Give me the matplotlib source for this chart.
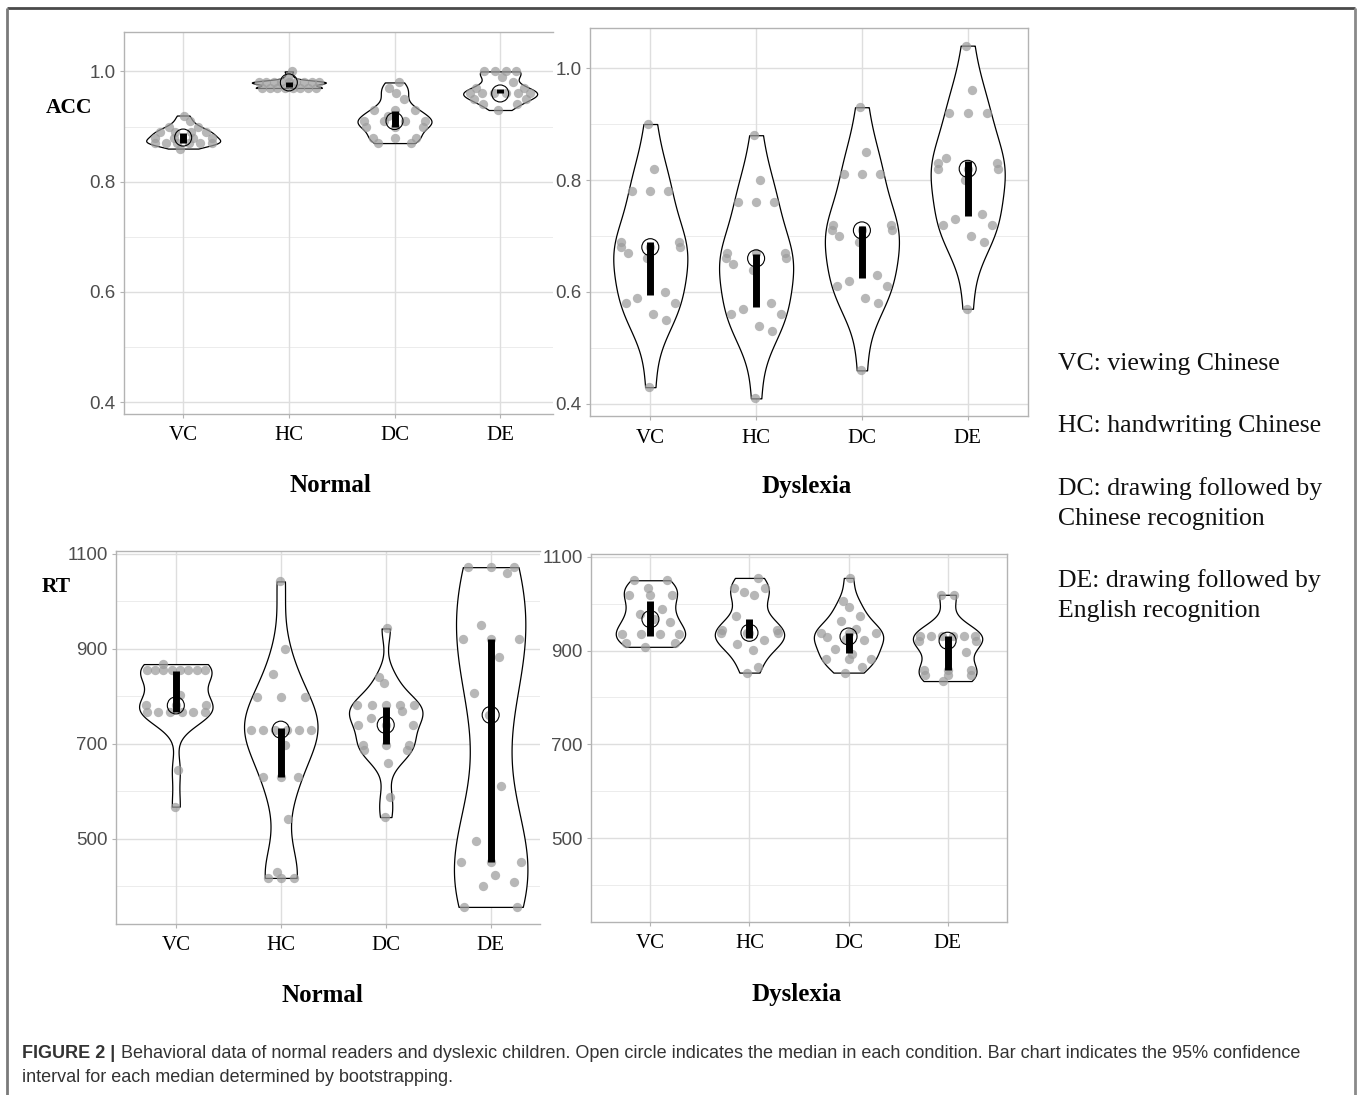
import numpy as np
import matplotlib
matplotlib.use("Agg")
import matplotlib.pyplot as plt
from matplotlib.mlab import GaussianKDE

# ---------------------------------------------------------------- data
conditions = ["VC", "HC", "DC", "DE"]

# accuracy, normal readers
acc_normal_vc = [0.92, 0.91, 0.90, 0.90, 0.89, 0.89, 0.89, 0.89, 0.88, 0.88,
                 0.88, 0.88, 0.87, 0.87, 0.87, 0.87, 0.87, 0.87, 0.86]
acc_normal_hc = [1.00, 0.99, 0.98, 0.98, 0.98, 0.98, 0.98, 0.98, 0.98, 0.98,
                 0.98, 0.97, 0.97, 0.97, 0.97, 0.97, 0.97, 0.97, 0.97]
acc_normal_dc = [0.98, 0.97, 0.96, 0.95, 0.93, 0.93, 0.93, 0.92, 0.91, 0.91,
                 0.91, 0.91, 0.90, 0.90, 0.90, 0.88, 0.88, 0.88, 0.87, 0.87]
acc_normal_de = [1.00, 1.00, 1.00, 1.00, 0.99, 0.98, 0.97, 0.97, 0.96, 0.96,
                 0.96, 0.96, 0.96, 0.96, 0.95, 0.95, 0.94, 0.94, 0.93]
acc_normal_ci_low = [0.870, 0.972, 0.900, 0.960]
acc_normal_ci_high = [0.888, 0.980, 0.929, 0.968]

# accuracy, dyslexic children
acc_dys_vc = [0.90, 0.82, 0.78, 0.78, 0.78, 0.69, 0.69, 0.68, 0.68, 0.68,
              0.67, 0.66, 0.60, 0.59, 0.58, 0.58, 0.56, 0.55, 0.43]
acc_dys_hc = [0.88, 0.80, 0.76, 0.76, 0.76, 0.67, 0.67, 0.67, 0.66, 0.66,
              0.65, 0.64, 0.58, 0.57, 0.56, 0.56, 0.54, 0.53, 0.41]
acc_dys_dc = [0.93, 0.85, 0.81, 0.81, 0.81, 0.72, 0.72, 0.71, 0.71, 0.71,
              0.70, 0.69, 0.63, 0.62, 0.61, 0.61, 0.59, 0.58, 0.46]
acc_dys_de = [1.04, 0.96, 0.92, 0.92, 0.92, 0.84, 0.83, 0.83, 0.82, 0.82,
              0.82, 0.80, 0.74, 0.73, 0.72, 0.72, 0.70, 0.69, 0.57]
acc_dys_ci_low = [0.594, 0.574, 0.625, 0.735]
acc_dys_ci_high = [0.689, 0.668, 0.717, 0.834]

# reaction time (ms), normal readers
rt_normal_vc = [868, 855, 855, 855, 855, 855, 855, 855, 855, 802, 781,
                781, 781, 767, 767, 767, 767, 767, 767, 646, 568]
rt_normal_hc = [1042, 899, 847, 798, 798, 798, 730, 730, 730, 730, 730,
                730, 698, 630, 630, 630, 542, 430, 418, 418, 418]
rt_normal_dc = [943, 840, 828, 781, 781, 781, 781, 781, 770, 755, 740,
                740, 740, 698, 698, 698, 688, 688, 660, 588, 546]
rt_normal_de = [1072, 1072, 1072, 1060, 950, 920, 920, 920, 882, 807, 761,
                612, 496, 451, 451, 451, 424, 409, 400, 357, 357]
rt_normal_ci_low = [767, 631, 700, 452]
rt_normal_ci_high = [853, 734, 777, 920]

# reaction time (ms), dyslexic children
rt_dys_vc = [1050, 1050, 1033, 1019, 1019, 1019, 988, 978, 967, 962,
             935, 935, 935, 935, 917, 917, 908]
rt_dys_hc = [1055, 1033, 1033, 1024, 1019, 973, 943, 943, 938, 937,
             937, 937, 922, 913, 902, 864, 853]
rt_dys_dc = [1055, 1005, 994, 973, 963, 945, 937, 937, 937, 930,
             924, 922, 904, 892, 883, 883, 883, 864, 853]
rt_dys_de = [1019, 1019, 932, 932, 932, 932, 932, 932, 921, 921,
             897, 858, 858, 858, 847, 847, 847, 835]
rt_dys_ci_low = [932, 926, 894, 858]
rt_dys_ci_high = [1006, 968, 938, 932]

acc_ticks = [0.4, 0.6, 0.8, 1.0]
acc_minor = [0.5, 0.7, 0.9]
rt_ticks = [500, 700, 900, 1100]
rt_minor = [400, 600, 800, 1000]

legend_lines = [
    ["VC: viewing Chinese"],
    ["HC: handwriting Chinese"],
    ["DC: drawing followed by", "Chinese recognition"],
    ["DE: drawing followed by", "English recognition"],
]
caption_head = "FIGURE 2 |"
caption_line1 = ("Behavioral data of normal readers and dyslexic children. Open circle "
                 "indicates the median in each condition. Bar chart indicates the 95% confidence")
caption_line2 = "interval for each median determined by bootstrapping."

# ---------------------------------------------------------------- style
W, H = 1358, 1095
SERIF = ["Liberation Serif", "DejaVu Serif"]
SANS = ["Liberation Sans", "DejaVu Sans"]
GRID_MAJOR = "#dedede"
GRID_MINOR = "#ececec"
BORDER = "#b3b3b3"

fig = plt.figure(figsize=(W / 100, H / 100), dpi=100)
fig.patch.set_facecolor("white")


def fx(px):
    return px / W


def fy(py):
    return 1 - py / H


def nrd0(x):
    x = np.asarray(x, float)
    sd = x.std(ddof=1)
    q75, q25 = np.percentile(x, [75, 25])
    iqr = q75 - q25
    lo = min(sd, iqr / 1.34) if iqr > 0 else sd
    return 0.9 * lo * len(x) ** -0.2


def bw_factor(kde):
    data = np.asarray(kde.dataset).ravel()
    return nrd0(data) / data.std(ddof=1)


def spread(vals):
    """Horizontal placement of the raw points: ties fan out in a row."""
    vals = np.asarray(vals, float)
    out = np.zeros(len(vals))
    uniq, inv, counts = np.unique(vals, return_inverse=True, return_counts=True)
    single = 0
    for k, c in enumerate(counts):
        idx = np.where(inv == k)[0]
        if c == 1:
            out[idx] = ((single * 0.618034 + 0.35) % 1.0) * 1.4 - 0.7
            single += 1
        else:
            out[idx] = np.linspace(-0.82, 0.82, c)
    return out


def make_axes(l, r, t, b, xlim, ylim, ticks, minor, ticklabels, hide_right):
    ax = fig.add_axes([fx(l), fy(b), fx(r - l), (b - t) / H])
    ax.set_xlim(*xlim)
    ax.set_ylim(*ylim)
    ax.set_facecolor("white")
    for y in minor:
        ax.axhline(y, color=GRID_MINOR, lw=0.7, zorder=0)
    for y in ticks:
        ax.axhline(y, color=GRID_MAJOR, lw=1.0, zorder=0)
    for x in range(1, 5):
        ax.axvline(x, color=GRID_MAJOR, lw=1.0, zorder=0)
    ax.set_yticks(ticks)
    ax.set_yticklabels(ticklabels, fontfamily=SANS, fontsize=13.5, color="#4d4d4d")
    ax.set_xticks(range(1, 5))
    ax.set_xticklabels(conditions, fontfamily=SERIF, fontsize=15, color="black")
    ax.tick_params(axis="both", direction="out", length=3, width=0.8, color=BORDER)
    ax.tick_params(axis="y", pad=3)
    ax.tick_params(axis="x", pad=6)
    for side, sp in ax.spines.items():
        sp.set_color(BORDER)
        sp.set_linewidth(1.0)
    if hide_right:
        ax.spines["right"].set_visible(False)
    return ax


def draw_panel(ax, groups, ci_low, ci_high):
    pos = np.arange(1, len(groups) + 1)
    parts = ax.violinplot(groups, positions=pos, widths=0.7, showextrema=False,
                          points=512, bw_method=bw_factor)
    for body in parts["bodies"]:
        body.set_facecolor("white")
        body.set_edgecolor("black")
        body.set_alpha(1)
        body.set_linewidth(0.9)
        body.set_zorder(2)
    for p, vals in zip(pos, groups):
        vals = np.asarray(vals, float)
        kde = GaussianKDE(vals, bw_method=bw_factor)
        grid = np.linspace(vals.min(), vals.max(), 512)
        scale = 0.35 / kde.evaluate(grid).max()
        halfw = kde.evaluate(vals) * scale
        ax.scatter(p + spread(vals) * halfw, vals, s=45, color="#9c9c9c",
                   alpha=0.72, linewidths=0, zorder=3)
    medians = [np.median(g) for g in groups]
    ax.scatter(pos, medians, s=150, facecolors="none", edgecolors="black",
               linewidths=0.8, zorder=4)
    for p, lo, hi in zip(pos, ci_low, ci_high):
        ax.plot([p, p], [lo, hi], color="black", lw=5, solid_capstyle="butt", zorder=5)


acc_ylim = (0.3785, 1.0715)
rt_ylim = (321, 1106)
acc_labels = ["0.4", "0.6", "0.8", "1.0"]
rt_labels = ["500", "700", "900", "1100"]

ax_tl = make_axes(124, 553, 32, 414, (0.44, 4.50), acc_ylim, acc_ticks, acc_minor, acc_labels, True)
ax_tr = make_axes(590, 1028, 28, 416, (0.43, 4.57), acc_ylim, acc_ticks, acc_minor, acc_labels, False)
ax_bl = make_axes(116, 540, 551, 924, (0.43, 4.47), rt_ylim, rt_ticks, rt_minor, rt_labels, True)
ax_br = make_axes(591, 1007, 554, 922, (0.40, 4.60), rt_ylim, rt_ticks, rt_minor, rt_labels, False)

draw_panel(ax_tl, [acc_normal_vc, acc_normal_hc, acc_normal_dc, acc_normal_de],
           acc_normal_ci_low, acc_normal_ci_high)
draw_panel(ax_tr, [acc_dys_vc, acc_dys_hc, acc_dys_dc, acc_dys_de],
           acc_dys_ci_low, acc_dys_ci_high)
draw_panel(ax_bl, [rt_normal_vc, rt_normal_hc, rt_normal_dc, rt_normal_de],
           rt_normal_ci_low, rt_normal_ci_high)
draw_panel(ax_br, [rt_dys_vc, rt_dys_hc, rt_dys_dc, rt_dys_de],
           rt_dys_ci_low, rt_dys_ci_high)

# panel titles and measure labels
title_kw = dict(fontfamily=SERIF, fontsize=18, fontweight="bold", ha="center", va="center")
fig.text(fx(330), fy(486), "Normal", **title_kw)
fig.text(fx(807), fy(486), "Dyslexia", **title_kw)
fig.text(fx(322), fy(995), "Normal", **title_kw)
fig.text(fx(797), fy(995), "Dyslexia", **title_kw)
fig.text(fx(69), fy(108), "ACC", fontfamily=SERIF, fontsize=15.5, fontweight="bold",
         ha="center", va="center")
fig.text(fx(56), fy(587), "RT", fontfamily=SERIF, fontsize=15.5, fontweight="bold",
         ha="center", va="center")

# condition key
key_y = [[364], [426], [489, 519], [581, 611]]
for lines, ys in zip(legend_lines, key_y):
    for txt, y in zip(lines, ys):
        fig.text(fx(1058), fy(y), txt, fontfamily=SERIF, fontsize=18.5,
                 ha="left", va="center", color="#111111")

# caption
renderer = fig.canvas.get_renderer()
cap_kw = dict(fontfamily=SANS, fontsize=13, va="center", color="#333333")
head = fig.text(fx(22), fy(1053), caption_head, fontweight="bold", **cap_kw)
bb = head.get_window_extent(renderer=renderer)
fig.text((bb.x1 + 6) / W, fy(1053), caption_line1, **cap_kw)
fig.text(fx(22), fy(1077), caption_line2, **cap_kw)

# frame around the figure
frame_kw = dict(transform=fig.transFigure, lw=2, solid_capstyle="butt")
fig.add_artist(plt.Line2D([fx(7), fx(1355)], [fy(8), fy(8)], color="#4a4a4a", **frame_kw))
fig.add_artist(plt.Line2D([fx(7), fx(7)], [fy(8), 0], color="#7a7a7a", **frame_kw))
fig.add_artist(plt.Line2D([fx(1355), fx(1355)], [fy(8), 0], color="#8a8a8a", **frame_kw))

fig.savefig("out.png", dpi=100, facecolor="white")
